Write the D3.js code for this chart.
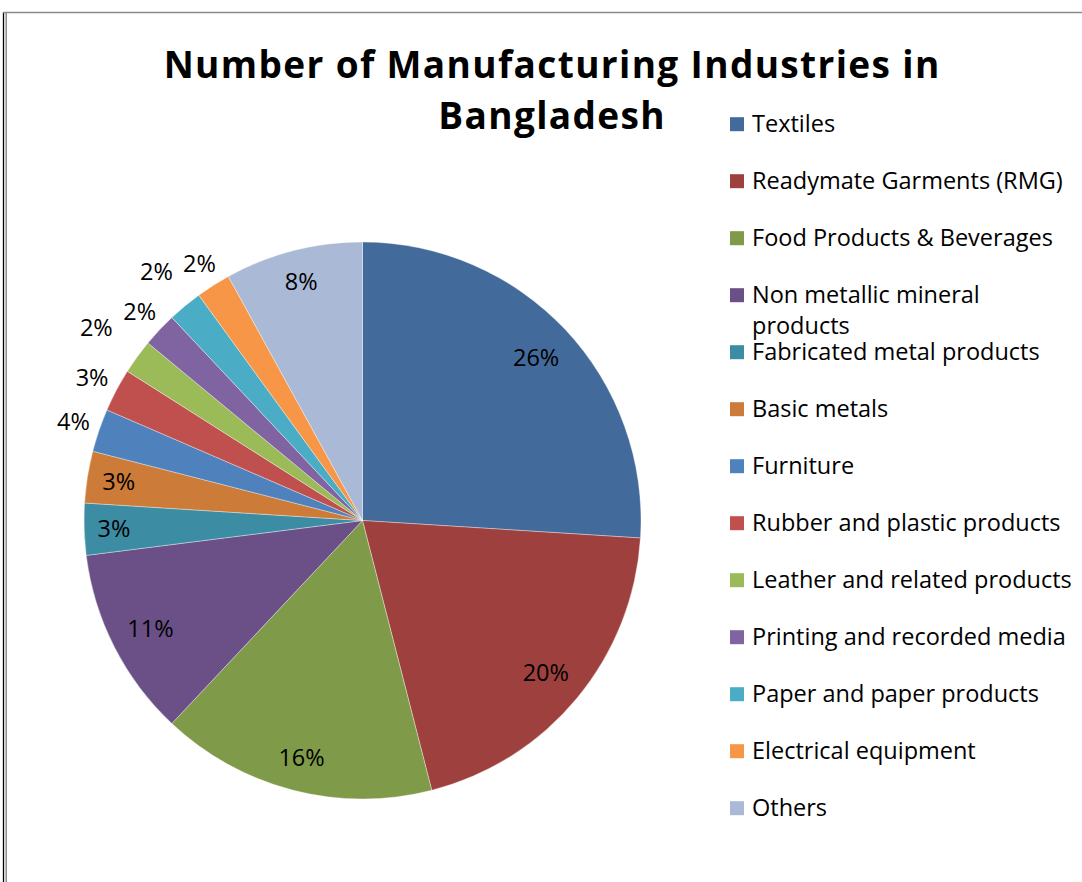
<!DOCTYPE html>
<html><head><meta charset="utf-8">
<script src="https://cdn.jsdelivr.net/npm/d3@7"></script>
<style>body{margin:0;background:#fff;} svg{display:block;}</style>
</head><body>
<svg id="chart" width="1082" height="882"></svg>
<script>
const categories = ["Textiles","Readymate Garments (RMG)","Food Products & Beverages","Non metallic mineral products","Fabricated metal products","Basic metals","Furniture","Rubber and plastic products","Leather and related products","Printing and recorded media","Paper and paper products","Electrical equipment","Others"];
const shares = [26.0,20.0,16.0,11.0,3.0,3.0,2.5,2.5,2.0,2.0,2.0,2.0,8.0];
const shareLabels = ["26%","20%","16%","11%","3%","3%","4%","3%","2%","2%","2%","2%","8%"];
const colors = ["#426A9B","#9E413E","#7F9A48","#6A5086","#3C8CA4","#CC7B38","#4F81BD","#C0504D","#9BBB59","#8064A2","#4BACC6","#F79646","#A9B9D6"];
const titleLines = ["Number of Manufacturing Industries in","Bangladesh"];

const FONT = "'Open Sans', sans-serif";
const svg = d3.select("#chart");

// frame
svg.append("line").attr("x1",3.5).attr("x2",3.5).attr("y1",12).attr("y2",882).attr("stroke","#000").attr("stroke-width",1.3);
svg.append("line").attr("x1",6.2).attr("x2",6.2).attr("y1",12).attr("y2",882).attr("stroke","#8a8a8a").attr("stroke-width",1.5);
svg.append("line").attr("x1",3).attr("x2",1082).attr("y1",12.6).attr("y2",12.6).attr("stroke","#8a8a8a").attr("stroke-width",1.5);

// title
const title = svg.append("g").selectAll("text").data(titleLines).join("text")
  .attr("x",551.5).attr("y",(d,i)=>77.7+i*51.6)
  .attr("text-anchor","middle").attr("font-family",FONT).attr("font-weight","bold")
  .attr("font-size",37).attr("fill","#000").text(d=>d);
{
  const w0 = title.node().getComputedTextLength();
  const n = titleLines[0].length;
  const ls = Math.max(0, (777 - w0) / n);
  title.attr("letter-spacing", ls).attr("x", 551.5 + ls/2);
}

// pie
const cx=362.5, cy=520.5, R=278.5;
const arcs = d3.pie().sort(null).value(d=>d)(shares);
const arc = d3.arc().innerRadius(0).outerRadius(R);
const g = svg.append("g").attr("transform",`translate(${cx},${cy})`);
g.selectAll("path").data(arcs).join("path").attr("d",arc)
  .attr("fill",(d,i)=>colors[i]).attr("stroke","#ffffff").attr("stroke-width",0.6).attr("stroke-opacity",0.6);

// data labels
const LFS = 23.5;
const lbl = g.append("g").selectAll("text").data(arcs).join("text")
  .attr("font-family",FONT).attr("font-size",LFS).attr("fill","#000")
  .attr("text-anchor","middle").attr("dy","0.36em").text((d,i)=>shareLabels[i]);
const info = [];
lbl.each(function(d,i){
  const w = this.getComputedTextLength();
  const h = LFS*0.9;
  const mid = (d.startAngle+d.endAngle)/2;
  const ux = Math.sin(mid), uy = -Math.cos(mid);
  const inside = (d.endAngle-d.startAngle)*R >= 1.5*w;
  const hb = inside ? LFS*1.3 : h;
  const proj = w/2*Math.abs(ux) + hb/2*Math.abs(uy);
  let r = inside ? R-13-proj : R+8+proj;
  info[i] = {w,h,ux,uy,r,inside};
});
const placed = [];
for (let i=info.length-1;i>=0;i--){
  const o = info[i];
  if (o.inside) continue;
  const pad = 10;
  const pos = ()=>[o.ux*o.r, o.uy*o.r];
  const hit = ()=>{ const [x,y]=pos(); return placed.some(p=>{const [px,py]=[p.ux*p.r,p.uy*p.r];
      return Math.abs(x-px) < (o.w+p.w)/2+pad && Math.abs(y-py) < (o.h+p.h)/2+pad;});};
  let n=0; while(hit() && n<200){o.r+=1;n++;}
  placed.push(o);
}
lbl.attr("x",(d,i)=>info[i].ux*info[i].r).attr("y",(d,i)=>info[i].uy*info[i].r);

// legend
const LX=730, TX=752, B0=131.7, STEP=57, MAXW=325, LINEH=31;
const leg = svg.append("g").selectAll("g").data(categories).join("g");
leg.append("rect").attr("x",LX).attr("y",(d,i)=>B0+i*STEP-14.5).attr("width",14).attr("height",14)
  .attr("fill",(d,i)=>colors[i]);
leg.append("text").attr("x",TX).attr("y",(d,i)=>B0+i*STEP)
  .attr("font-family",FONT).attr("font-size",LFS).attr("fill","#000")
  .each(function(d){
    const t = d3.select(this);
    const words = d.split(" ");
    let line = [];
    let ts = t.append("tspan").attr("x",TX).attr("dy",0);
    words.forEach(w=>{
      line.push(w); ts.text(line.join(" "));
      if (ts.node().getComputedTextLength() > MAXW && line.length>1){
        line.pop(); ts.text(line.join(" ")); line=[w];
        ts = t.append("tspan").attr("x",TX).attr("dy",LINEH).text(w);
      }
    });
  });
</script>
</body></html>
